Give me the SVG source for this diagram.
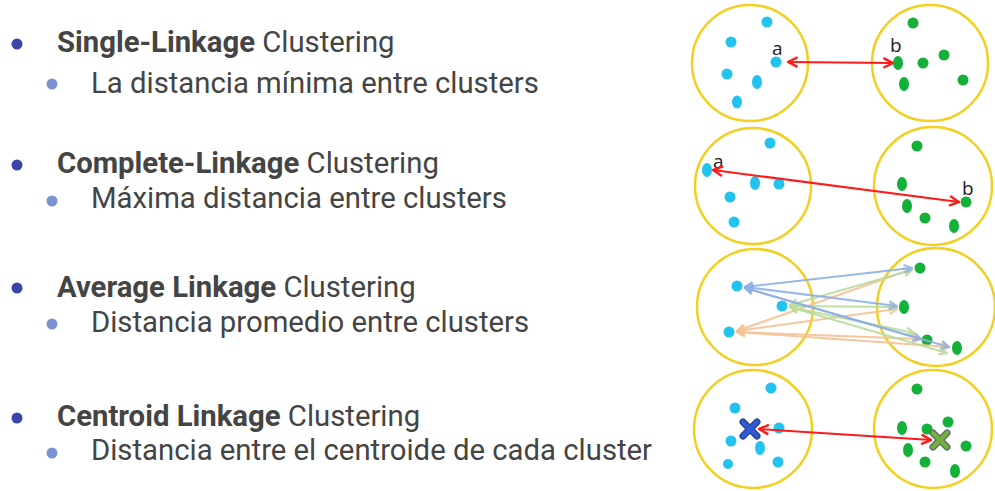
<svg xmlns="http://www.w3.org/2000/svg" width="995" height="491" viewBox="0 0 995 491">
<defs>
<style>
.t{font-family:Roboto,"Liberation Sans",sans-serif;fill:#444444;font-size:29.3px}
.b{font-weight:bold}
.mb{fill:#3a45a6}
.sb{fill:#7d93d1}
.cl{fill:none;stroke:#f3cf1f;stroke-width:2.5}
.cy{fill:#22c3ee}
.gr{fill:#13b03a}
.lab{font-family:"Open Sans","Liberation Sans",sans-serif;font-size:19px;fill:#222}
.red{stroke:#ff1a1a;stroke-width:2;fill:none;marker-start:url(#ar);marker-end:url(#ar)}
.lb{stroke:#8fb0e6;stroke-width:2;opacity:.9;marker-start:url(#ab);marker-end:url(#ab)}
.lg{stroke:#b9dc9c;stroke-width:2;opacity:.9;marker-start:url(#ag);marker-end:url(#ag)}
.lo{stroke:#f6c193;stroke-width:2;opacity:.9;marker-start:url(#ao);marker-end:url(#ao)}
</style>
<marker id="ar" viewBox="0 0 10 10" refX="9" refY="5" markerWidth="6" markerHeight="6" orient="auto-start-reverse" markerUnits="strokeWidth"><path d="M1,1 L9,5 L1,9" fill="none" stroke="#ff1a1a" stroke-width="2"/></marker>
<marker id="ab" viewBox="0 0 10 10" refX="9" refY="5" markerWidth="5" markerHeight="5" orient="auto-start-reverse" markerUnits="strokeWidth"><path d="M1,1 L9,5 L1,9" fill="none" stroke="#8fb0e6" stroke-width="2"/></marker>
<marker id="ag" viewBox="0 0 10 10" refX="9" refY="5" markerWidth="5" markerHeight="5" orient="auto-start-reverse" markerUnits="strokeWidth"><path d="M1,1 L9,5 L1,9" fill="none" stroke="#b9dc9c" stroke-width="2"/></marker>
<marker id="ao" viewBox="0 0 10 10" refX="9" refY="5" markerWidth="5" markerHeight="5" orient="auto-start-reverse" markerUnits="strokeWidth"><path d="M1,1 L9,5 L1,9" fill="none" stroke="#f6c193" stroke-width="2"/></marker>
</defs>
<rect width="995" height="491" fill="#ffffff"/>

<g id="item-single">
<circle class="mb" cx="17" cy="44" r="5.5"/>
<text class="t" x="57" y="52"><tspan class="b">Single-Linkage</tspan> Clustering</text>
<circle class="sb" cx="52" cy="84" r="5.5"/>
<text class="t" x="91" y="93">La distancia mínima entre clusters</text>
</g>
<g id="item-complete">
<circle class="mb" cx="17" cy="165" r="5.5"/>
<text class="t" x="57" y="173"><tspan class="b">Complete-Linkage</tspan> Clustering</text>
<circle class="sb" cx="52" cy="201" r="5.5"/>
<text class="t" x="91" y="208">Máxima distancia entre clusters</text>
</g>
<g id="item-average">
<circle class="mb" cx="17" cy="288" r="5.5"/>
<text class="t" x="57" y="297"><tspan class="b">Average Linkage</tspan> Clustering</text>
<circle class="sb" cx="52" cy="324" r="5.5"/>
<text class="t" x="91" y="332">Distancia promedio entre clusters</text>
</g>
<g id="item-centroid">
<circle class="mb" cx="17" cy="418" r="5.5"/>
<text class="t" x="57" y="426"><tspan class="b">Centroid Linkage</tspan> Clustering</text>
<circle class="sb" cx="52" cy="453" r="5.5"/>
<text class="t" x="91" y="460">Distancia entre el centroide de cada cluster</text>
</g>

<!-- Row 1 -->
<g id="single-left">
<circle class="cl" cx="750" cy="63" r="58"/>
<ellipse class="cy" cx="767" cy="22" rx="5.5" ry="5.5"/>
<ellipse class="cy" cx="731" cy="42" rx="5.5" ry="5.5"/>
<ellipse class="cy" cx="776" cy="62" rx="5.5" ry="5.5"/>
<ellipse class="cy" cx="727" cy="74" rx="5.5" ry="5.5"/>
<ellipse class="cy" cx="757" cy="82" rx="5" ry="7"/>
<ellipse class="cy" cx="737" cy="102" rx="5" ry="6.5"/>
<text class="lab" x="772" y="55">a</text>
</g>
<g id="single-right">
<circle class="cl" cx="930" cy="63" r="58"/>
<ellipse class="gr" cx="913" cy="23" rx="5.5" ry="5.5"/>
<ellipse class="gr" cx="898" cy="63" rx="5" ry="7"/>
<ellipse class="gr" cx="923" cy="63" rx="5.5" ry="5.5"/>
<ellipse class="gr" cx="944" cy="55" rx="5.5" ry="5.5"/>
<ellipse class="gr" cx="904" cy="84" rx="5" ry="7"/>
<ellipse class="gr" cx="963" cy="80" rx="5.5" ry="5.5"/>
<text class="lab" x="890" y="52">b</text>
</g>

<!-- Row 2 -->
<g id="complete-left">
<circle class="cl" cx="753" cy="186" r="58"/>
<ellipse class="cy" cx="770" cy="143" rx="5.5" ry="5.5"/>
<ellipse class="cy" cx="707" cy="170" rx="5" ry="7"/>
<ellipse class="cy" cx="755" cy="183" rx="5" ry="7"/>
<ellipse class="cy" cx="779" cy="184" rx="5.5" ry="5.5"/>
<ellipse class="cy" cx="730" cy="197" rx="5.5" ry="5.5"/>
<ellipse class="cy" cx="734" cy="222" rx="5.5" ry="5.5"/>
<text class="lab" x="713" y="168">a</text>
</g>
<g id="complete-right">
<circle class="cl" cx="933" cy="186" r="59"/>
<ellipse class="gr" cx="917" cy="146" rx="5.5" ry="5.5"/>
<ellipse class="gr" cx="902" cy="184" rx="5" ry="7"/>
<ellipse class="gr" cx="907" cy="206" rx="5" ry="7"/>
<ellipse class="gr" cx="925" cy="218" rx="5.5" ry="5.5"/>
<ellipse class="gr" cx="954" cy="226" rx="5" ry="7"/>
<ellipse class="gr" cx="966" cy="202" rx="5.5" ry="5.5"/>
<text class="lab" x="962" y="195">b</text>
</g>

<!-- Row 3 -->
<g id="average-left">
<circle class="cl" cx="755" cy="307" r="58"/>
<ellipse class="cy" cx="737" cy="286" rx="5.5" ry="5.5"/>
<ellipse class="cy" cx="782" cy="306" rx="5.5" ry="5.5"/>
<ellipse class="cy" cx="729" cy="332" rx="5.5" ry="5.5"/>
</g>
<g id="average-right">
<circle class="cl" cx="936" cy="307" r="59"/>
<ellipse class="gr" cx="920" cy="268" rx="5.5" ry="5.5"/>
<ellipse class="gr" cx="904" cy="307" rx="5" ry="7"/>
<ellipse class="gr" cx="927" cy="340" rx="5.5" ry="5.5"/>
<ellipse class="gr" cx="957" cy="348" rx="5" ry="7"/>
</g>

<!-- Row 4 -->
<g id="centroid-left">
<circle class="cl" cx="753" cy="429" r="59"/>
<ellipse class="cy" cx="771" cy="388" rx="5.5" ry="5.5"/>
<ellipse class="cy" cx="735" cy="408" rx="5.5" ry="5.5"/>
<ellipse class="cy" cx="779" cy="428" rx="5.5" ry="5.5"/>
<ellipse class="cy" cx="731" cy="441" rx="5.5" ry="5.5"/>
<ellipse class="cy" cx="760" cy="448" rx="5" ry="7"/>
<ellipse class="cy" cx="728" cy="464" rx="5" ry="5"/>
<ellipse class="cy" cx="778" cy="462" rx="5.5" ry="5.5"/>
<g stroke-linecap="round">
<path d="M743,422 L757,436 M757,422 L743,436" stroke="#2a3f8a" stroke-width="7"/>
<path d="M743,422 L757,436 M757,422 L743,436" stroke="#2f5ad6" stroke-width="4.5"/>
</g>
</g>
<g id="centroid-right">
<circle class="cl" cx="933" cy="429" r="59"/>
<ellipse class="gr" cx="917" cy="389" rx="5.5" ry="5.5"/>
<ellipse class="gr" cx="902" cy="428" rx="5" ry="7"/>
<ellipse class="gr" cx="927" cy="429" rx="5.5" ry="5.5"/>
<ellipse class="gr" cx="948" cy="422" rx="5.5" ry="5.5"/>
<ellipse class="gr" cx="908" cy="450" rx="5" ry="7"/>
<ellipse class="gr" cx="925" cy="462" rx="5.5" ry="5.5"/>
<ellipse class="gr" cx="966" cy="446" rx="5.5" ry="5.5"/>
<ellipse class="gr" cx="955" cy="471" rx="5" ry="7"/>
</g>

<g id="connectors">
<line class="red" x1="788" y1="62" x2="893" y2="63"/>
<line class="red" x1="713" y1="170" x2="959" y2="202"/>
<line class="lo" x1="737" y1="331" x2="912" y2="269"/>
<line class="lo" x1="737" y1="331" x2="897" y2="309"/>
<line class="lo" x1="737" y1="332" x2="920" y2="339"/>
<line class="lo" x1="737" y1="332" x2="949" y2="347"/>
<line class="lg" x1="790" y1="305" x2="912" y2="270"/>
<line class="lg" x1="790" y1="306" x2="897" y2="307"/>
<line class="lg" x1="790" y1="307" x2="914" y2="333"/>
<line class="lg" x1="790" y1="307" x2="947" y2="353"/>
<line class="lb" x1="745" y1="287" x2="912" y2="268"/>
<line class="lb" x1="745" y1="287" x2="897" y2="306"/>
<line class="lb" x1="745" y1="288" x2="921" y2="339"/>
<line class="lb" x1="745" y1="288" x2="949" y2="347"/>
<line class="red" x1="759" y1="429" x2="931" y2="440"/>
<g stroke-linecap="round">
<path d="M933,433 L947,447 M947,433 L933,447" stroke="#5a6a60" stroke-width="7"/>
<path d="M933,433 L947,447 M947,433 L933,447" stroke="#72b043" stroke-width="4.5"/>
</g>
</g>
</svg>
